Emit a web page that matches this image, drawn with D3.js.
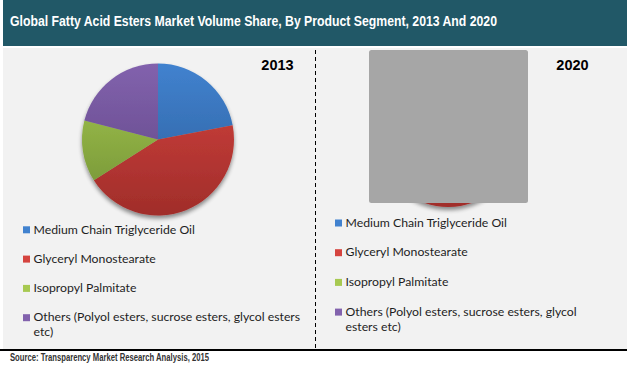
<!DOCTYPE html>
<html><head><meta charset="utf-8">
<script src="https://cdn.jsdelivr.net/npm/d3@7"></script>
<style>html,body{margin:0;padding:0;background:#fff;}svg{display:block;}</style>
</head><body>
<svg id="chart" width="627" height="368"></svg>
<script>
const titleText = "Global Fatty Acid Esters Market Volume Share, By Product Segment, 2013 And 2020";
const sourceText = "Source: Transparency Market Research Analysis, 2015";
const segments = ["Medium Chain Triglyceride Oil", "Glyceryl Monostearate", "Isopropyl Palmitate", "Others (Polyol esters, sucrose esters, glycol esters etc)"];
const years = ["2013", "2020"];
const share2013 = [22, 44, 13, 21];
const share2020 = [23, 43, 13, 21];
const colorsTop = ["#4182cf", "#d5443f", "#a7c951", "#8262ad"];
const colorsBottom = ["#2b5c98", "#a02d2a", "#708f34", "#5c4382"];

const svg = d3.select("#chart");
const W = 627, H = 368;
const defs = svg.append("defs");

const f = defs.append("filter").attr("id","shadow").attr("x","-30%").attr("y","-30%").attr("width","160%").attr("height","160%");
f.append("feGaussianBlur").attr("in","SourceAlpha").attr("stdDeviation",2.2).attr("result","b");
f.append("feOffset").attr("in","b").attr("dy",3).attr("result","o");
f.append("feComponentTransfer").attr("in","o").attr("result","o2").append("feFuncA").attr("type","linear").attr("slope",0.45);
const m = f.append("feMerge"); m.append("feMergeNode").attr("in","o2"); m.append("feMergeNode").attr("in","SourceGraphic");

function fitText(sel, target) {
  const fs = parseFloat(sel.attr("font-size"));
  const w = sel.node().getComputedTextLength();
  const nfs = fs * target / w;
  sel.attr("font-size", nfs);
  return nfs;
}

// header
svg.append("rect").attr("x",3).attr("y",0).attr("width",W-3).attr("height",46).attr("fill","#215867");
svg.append("text").attr("x",10).attr("y",25.5).attr("fill","#ffffff")
  .attr("font-family","Liberation Sans, Arial, sans-serif").attr("font-weight","bold").attr("font-size",13.8)
  .attr("textLength",487).attr("lengthAdjust","spacingAndGlyphs").text(titleText);

// panel
svg.append("rect").attr("x",3).attr("y",48).attr("width",W-3).attr("height",301).attr("fill","#f2f2f2");
svg.append("rect").attr("x",0).attr("y",349).attr("width",W).attr("height",2).attr("fill","#000");
svg.append("line").attr("x1",315.5).attr("x2",315.5).attr("y1",50).attr("y2",349)
  .attr("stroke","#000").attr("stroke-width",1).attr("stroke-dasharray","4,3");

svg.append("text").attr("x",10).attr("y",361).attr("fill","#333")
  .attr("font-family","Liberation Sans Narrow, Liberation Sans, Arial, sans-serif").attr("font-weight","bold").attr("font-size",10.5)
  .attr("textLength",199).attr("lengthAdjust","spacingAndGlyphs").text(sourceText);

const panels = [
  {year: years[0], data: share2013, cx: 158, cy: 139.5, r: 76, yearX: 277.5, legX: 23, legY: 233.5, step: 29.3, wrap: 280, cover: false},
  {year: years[1], data: share2020, cx: 448, cy: 135, r: 72, yearX: 572.5, legX: 335, legY: 226.7, step: 29.7, wrap: 260, cover: true}
];

const probe = svg.append("text").attr("font-family","Lato, Open Sans, sans-serif").attr("font-size",12).text(segments[0]);
const legFS = fitText(probe, 161.5);
probe.remove();

panels.forEach((p, pi) => {
  const pie = d3.pie().sort(null).value(d => d)(p.data);
  const arc = d3.arc().innerRadius(0).outerRadius(p.r);
  const g = svg.append("g").attr("transform", `translate(${p.cx},${p.cy})`).attr("filter","url(#shadow)");
  colorsTop.forEach((c, i) => {
    const lg = defs.append("linearGradient").attr("id", `g${pi}_${i}`).attr("gradientUnits","userSpaceOnUse")
      .attr("x1",0).attr("x2",0).attr("y1",-p.r).attr("y2",p.r);
    lg.append("stop").attr("offset","0%").attr("stop-color", colorsTop[i]);
    lg.append("stop").attr("offset","100%").attr("stop-color", colorsBottom[i]);
  });
  g.selectAll("path").data(pie).join("path").attr("d", arc).attr("fill", (d,i) => `url(#g${pi}_${i})`);

  if (p.cover) {
    svg.append("rect").attr("x",369).attr("y",50).attr("width",159).attr("height",153).attr("rx",2.5).attr("fill","#a6a6a6");
  }

  svg.append("text").attr("x",p.yearX).attr("y",70).attr("text-anchor","middle")
    .attr("font-family","Liberation Sans, Arial, sans-serif").attr("font-weight","bold").attr("font-size",14.5).attr("fill","#000").text(p.year);

  segments.forEach((s, i) => {
    const y = p.legY + i * p.step;
    svg.append("rect").attr("x",p.legX).attr("y",y-7.2).attr("width",7).attr("height",7).attr("fill",colorsTop[i]);
    const t = svg.append("text").attr("x",p.legX+10.5).attr("y",y).attr("fill","#1e1e1e")
      .attr("font-family","Lato, Open Sans, sans-serif").attr("font-size",legFS);
    const words = s.split(" ");
    let line = [], lineNo = 0;
    let ts = t.append("tspan").attr("x",p.legX+10.5).attr("y",y);
    words.forEach(w => {
      line.push(w);
      ts.text(line.join(" "));
      if (ts.node().getComputedTextLength() > p.wrap && line.length > 1) {
        line.pop(); ts.text(line.join(" "));
        line = [w]; lineNo++;
        ts = t.append("tspan").attr("x",p.legX+10.5).attr("y", y + lineNo*15).text(w);
      }
    });
  });
});
</script>
</body></html>
